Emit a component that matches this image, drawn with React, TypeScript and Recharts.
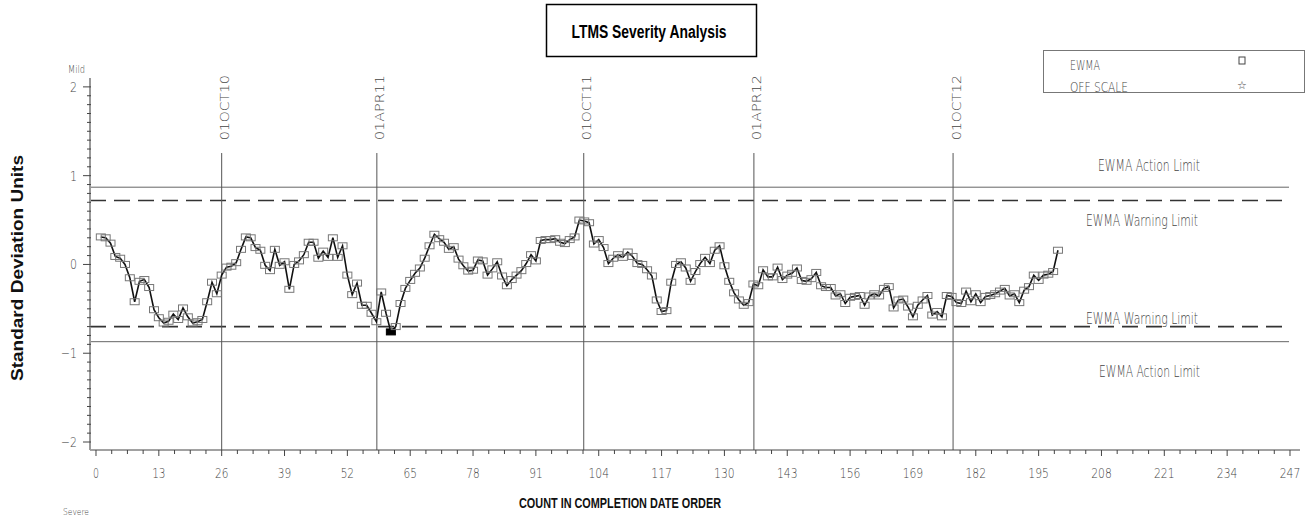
import React from "react";
import { LineChart, Line, XAxis, YAxis, ReferenceLine } from "recharts";

// EWMA of severity, one value per test in completion order (count 1..199)
const ewma: number[] = [
  0.31, 0.3, 0.24, 0.09, 0.07, 0.0, -0.15, -0.42, -0.19, -0.17,
  -0.26, -0.51, -0.6, -0.66, -0.64, -0.56, -0.62, -0.49, -0.59, -0.66,
  -0.645, -0.62, -0.42, -0.2, -0.33, -0.12, -0.03, -0.02, 0.02, 0.17,
  0.31, 0.3, 0.19, 0.16, -0.01, -0.07, 0.17, -0.01, 0.03, -0.28,
  0.0, 0.04, 0.11, 0.25, 0.25, 0.07, 0.15, 0.08, 0.3, 0.08,
  0.21, -0.12, -0.34, -0.21, -0.46, -0.46, -0.55, -0.645, -0.31, -0.55,
  -0.76, -0.7, -0.44, -0.27, -0.18, -0.1, -0.04, 0.07, 0.21, 0.34,
  0.29, 0.25, 0.17, 0.2, 0.06, -0.015, -0.075, -0.065, 0.05, 0.04,
  -0.12, -0.05, 0.03, -0.13, -0.24, -0.17, -0.12, -0.07, 0.01, 0.11,
  0.04, 0.27, 0.28, 0.28, 0.29, 0.25, 0.235, 0.28, 0.31, 0.5,
  0.49, 0.47, 0.23, 0.28, 0.19, 0.01, 0.07, 0.11, 0.08, 0.14,
  0.09, 0.01, 0.0, -0.06, -0.13, -0.4, -0.53, -0.52, -0.2, 0.0,
  0.03, -0.04, -0.19, -0.08, 0.01, 0.08, 0.01, 0.16, 0.21, -0.015,
  -0.19, -0.32, -0.4, -0.46, -0.43, -0.22, -0.24, -0.06, -0.14, -0.14,
  -0.03, -0.17, -0.12, -0.1, -0.04, -0.18, -0.19, -0.16, -0.09, -0.24,
  -0.26, -0.26, -0.355, -0.33, -0.44, -0.37, -0.36, -0.35, -0.46, -0.355,
  -0.33, -0.355, -0.27, -0.25, -0.49, -0.4, -0.39, -0.48, -0.59, -0.46,
  -0.4, -0.35, -0.57, -0.53, -0.59, -0.35, -0.36, -0.43, -0.44, -0.3,
  -0.42, -0.33, -0.43, -0.36, -0.35, -0.33, -0.3, -0.27, -0.355, -0.33,
  -0.43, -0.29, -0.25, -0.12, -0.18, -0.12, -0.11, -0.08, 0.16,
];

const xMajorTicks = [0, 13, 26, 39, 52, 65, 78, 91, 104, 117, 130, 143, 156, 169, 182, 195, 208, 221, 234, 247];
const yMajorTicks = [-2, -1, 0, 1, 2];

const dateLabels = ["01OCT10", "01APR11", "01OCT11", "01APR12", "01OCT12"];
const dateCounts = [26, 58.1, 100.9, 136.1, 177.3];

const actionLimits = [0.87, -0.87];
const warningLimits = [0.72, -0.7];

const X_DOMAIN: [number, number] = [-1.24, 249.07];
const Y_DOMAIN: [number, number] = [-2.09, 2.1];
const LIMIT_END = 246.8;
const DATE_LINE_TOP = 1.255;

const THIN = "'DejaVu Sans', sans-serif";
const BOLD = "'Liberation Sans', Arial, sans-serif";
const INK = "#444";

const data = ewma.map((v, i) => ({ count: i + 1, ewma: v }));

// minor ticks: 4 divisions between x labels, 10 between y labels
const xTicks: number[] = [];
xMajorTicks.forEach((t, i) => {
  xTicks.push(t);
  if (i < xMajorTicks.length - 1) xTicks.push(t + 3.25, t + 6.5, t + 9.75);
});
const yTicks: number[] = [];
yMajorTicks.forEach((t, i) => {
  yTicks.push(t);
  if (i < yMajorTicks.length - 1) for (let k = 1; k < 10; k++) yTicks.push(+(t + k / 10).toFixed(2));
});

const isMajor = (list: number[], v: number) => list.some((t) => Math.abs(t - v) < 1e-6);

const XTick = (props: any) => {
  const { x, y, payload } = props;
  const v = payload.value;
  const major = isMajor(xMajorTicks, v);
  const s = String(v);
  return (
    <g>
      <line x1={x} x2={x} y1={y} y2={y + (major ? 6 : 4)} stroke={INK} strokeWidth={1} />
      {major && (
        <text
          x={x}
          y={y + 28}
          textAnchor="middle"
          fontFamily={THIN}
          fontWeight={200}
          fontSize={14}
          fill={INK}
          textLength={s.length === 1 ? 6 : s.length * 7.2 - 1}
          lengthAdjust="spacingAndGlyphs"
        >
          {s}
        </text>
      )}
    </g>
  );
};

const YTick = (props: any) => {
  const { x, y, payload } = props;
  const v = payload.value;
  const major = isMajor(yMajorTicks, v);
  const s = v < 0 ? `\u2212${Math.abs(v)}` : String(v);
  return (
    <g>
      <line x1={x - (major ? 7 : 3)} x2={x + 1} y1={y} y2={y} stroke={INK} strokeWidth={1} />
      {major && (
        <text
          x={x - 13}
          y={y + 5}
          textAnchor="end"
          fontFamily={THIN}
          fontWeight={200}
          fontSize={14}
          fill={INK}
          textLength={s.length === 1 ? 7 : 16}
          lengthAdjust="spacingAndGlyphs"
        >
          {s}
        </text>
      )}
    </g>
  );
};

const renderDot = (props: any) => {
  const { cx, cy, payload, index } = props;
  const beyond = payload.ewma < warningLimits[1] || payload.ewma > warningLimits[0];
  return (
    <rect
      key={`pt-${index}`}
      x={cx - 4.5}
      y={cy - 3}
      width={9}
      height={6}
      fill={beyond ? "#000" : "none"}
      stroke={beyond ? "#000" : "#777"}
      strokeWidth={1}
    />
  );
};

const limitLabel = (text: string, dx: number, dy: number, width: number) => (p: any) => {
  const vb = p.viewBox || {};
  return (
    <text
      x={vb.x + vb.width - dx}
      y={vb.y + dy}
      fontFamily={THIN}
      fontWeight={200}
      fontSize={15}
      fill={INK}
      textLength={width}
      lengthAdjust="spacingAndGlyphs"
    >
      {text}
    </text>
  );
};

const dateLabel = (text: string) => (p: any) => {
  const vb = p.viewBox || {};
  return (
    <text
      transform={`translate(${vb.x + 7.5}, ${vb.y - 13}) rotate(-90)`}
      fontFamily={THIN}
      fontWeight={200}
      fontSize={12.5}
      fill={INK}
      textLength={65}
      lengthAdjust="spacingAndGlyphs"
    >
      {text}
    </text>
  );
};

export default function App() {
  return (
    <div style={{ position: "absolute", left: 0, top: 0, width: 1309, height: 517, background: "#fff", overflow: "hidden" }}>
      <LineChart width={1309} height={517} data={data} margin={{ top: 78, right: 9, bottom: 27, left: 30 }}>
        <XAxis
          dataKey="count"
          type="number"
          domain={X_DOMAIN}
          ticks={xTicks}
          interval={0}
          allowDataOverflow
          height={40}
          tickSize={0}
          tickMargin={0}
          tickLine={false}
          tick={XTick}
          axisLine={{ stroke: INK, strokeWidth: 1 }}
        />
        <YAxis
          type="number"
          domain={Y_DOMAIN}
          ticks={yTicks}
          interval={0}
          allowDataOverflow
          width={60}
          tickSize={0}
          tickMargin={0}
          tickLine={false}
          tick={YTick}
          axisLine={{ stroke: "#999", strokeWidth: 2 }}
        />
        <ReferenceLine
          ifOverflow="visible"
          segment={[{ x: X_DOMAIN[0], y: actionLimits[0] }, { x: LIMIT_END, y: actionLimits[0] }]}
          stroke="#666"
          strokeWidth={1}
          label={limitLabel("EWMA Action Limit", 191, -16.5, 102)}
        />
        <ReferenceLine
          ifOverflow="visible"
          segment={[{ x: X_DOMAIN[0], y: warningLimits[0] }, { x: LIMIT_END, y: warningLimits[0] }]}
          stroke="#333"
          strokeWidth={1.6}
          strokeDasharray="16 8"
          label={limitLabel("EWMA Warning Limit", 203, 25, 112)}
        />
        <ReferenceLine
          ifOverflow="visible"
          segment={[{ x: X_DOMAIN[0], y: warningLimits[1] }, { x: LIMIT_END, y: warningLimits[1] }]}
          stroke="#333"
          strokeWidth={1.6}
          strokeDasharray="16 8"
          label={limitLabel("EWMA Warning Limit", 203, -3, 112)}
        />
        <ReferenceLine
          ifOverflow="visible"
          segment={[{ x: X_DOMAIN[0], y: actionLimits[1] }, { x: LIMIT_END, y: actionLimits[1] }]}
          stroke="#666"
          strokeWidth={1}
          label={limitLabel("EWMA Action Limit", 190, 35, 101)}
        />
        {dateCounts.map((c, i) => (
          <ReferenceLine
            key={dateLabels[i]}
            ifOverflow="visible"
            segment={[{ x: c, y: DATE_LINE_TOP }, { x: c, y: Y_DOMAIN[0] }]}
            stroke="#555"
            strokeWidth={1}
            label={dateLabel(dateLabels[i])}
          />
        ))}
        <Line
          type="linear"
          dataKey="ewma"
          stroke="#111"
          strokeWidth={1.6}
          dot={renderDot}
          activeDot={false}
          isAnimationActive={false}
        />
      </LineChart>

      <svg width={1309} height={517} style={{ position: "absolute", left: 0, top: 0, pointerEvents: "none" }}>
        {/* title */}
        <rect x={546.5} y={4.5} width={210} height={52} fill="none" stroke="#000" strokeWidth={1.5} />
        <text x={649} y={38} textAnchor="middle" fontFamily={BOLD} fontWeight={700} fontSize={18} fill="#000" textLength={155} lengthAdjust="spacingAndGlyphs">
          LTMS Severity Analysis
        </text>

        {/* legend */}
        <rect x={1043.5} y={50.5} width={261} height={42} fill="none" stroke="#777" strokeWidth={1} />
        <text x={1070} y={70} fontFamily={THIN} fontWeight={200} fontSize={14} fill={INK} textLength={30} lengthAdjust="spacingAndGlyphs">
          EWMA
        </text>
        <rect x={1239} y={57} width={6} height={7} fill="none" stroke={INK} strokeWidth={1} />
        <text x={1070} y={91.5} fontFamily={THIN} fontWeight={200} fontSize={14} fill={INK} textLength={58} lengthAdjust="spacingAndGlyphs">
          OFF SCALE
        </text>
        <text x={1242} y={89} textAnchor="middle" fontFamily={THIN} fontSize={11} fill={INK}>
          {"\u2606"}
        </text>

        {/* severity direction */}
        <text x={68} y={73} fontFamily={THIN} fontWeight={200} fontSize={11} fill={INK} textLength={17} lengthAdjust="spacingAndGlyphs">
          Mild
        </text>
        <text x={63} y={515} fontFamily={THIN} fontWeight={200} fontSize={8} fill={INK} textLength={26} lengthAdjust="spacingAndGlyphs">
          Severe
        </text>

        {/* axis titles */}
        <text
          transform="translate(23, 268) rotate(-90)"
          textAnchor="middle"
          fontFamily={BOLD}
          fontWeight={700}
          fontSize={17}
          fill="#111"
          textLength={226}
          lengthAdjust="spacingAndGlyphs"
        >
          Standard Deviation Units
        </text>
        <text x={620} y={508} textAnchor="middle" fontFamily={BOLD} fontWeight={700} fontSize={14} fill="#111" textLength={202} lengthAdjust="spacingAndGlyphs">
          COUNT IN COMPLETION DATE ORDER
        </text>
      </svg>
    </div>
  );
}
